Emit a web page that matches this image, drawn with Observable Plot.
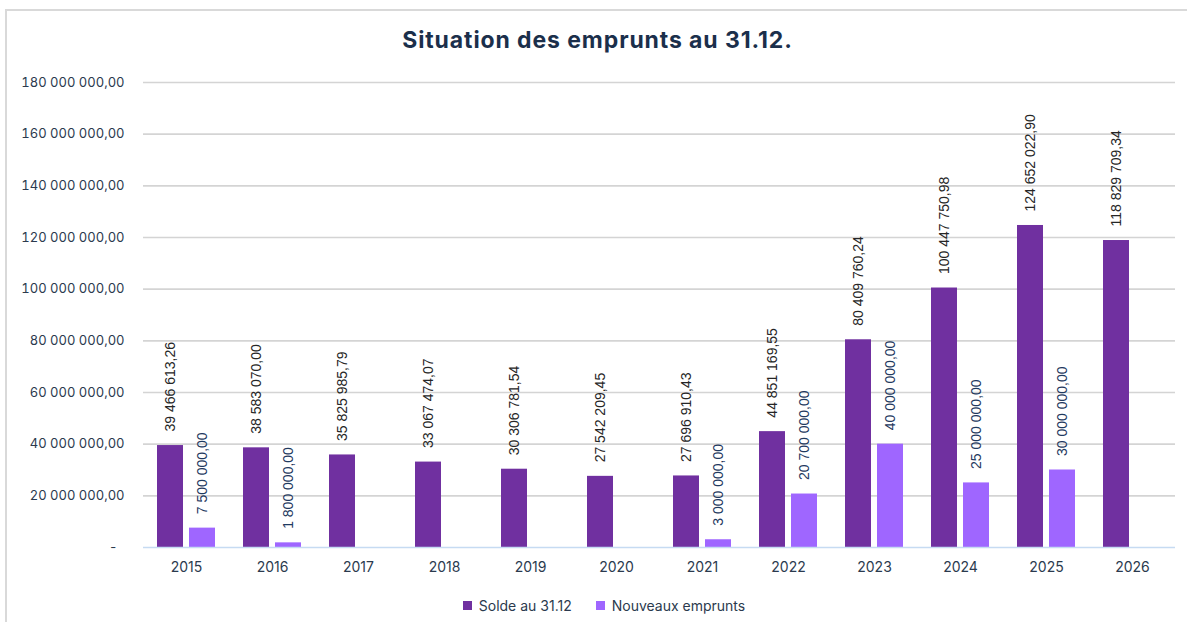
<!DOCTYPE html>
<html>
<head>
<meta charset="utf-8">
<script src="https://cdn.jsdelivr.net/npm/d3@7"></script>
<script src="https://cdn.jsdelivr.net/npm/@observablehq/plot@0.6"></script>
<style>
  html, body { margin: 0; padding: 0; background: #fff; }
  #wrap { position: relative; width: 1187px; height: 622px; overflow: hidden; }
  #frame { position: absolute; left: 5px; top: 9px; width: 1190px; height: 630px;
           border-left: 2px solid #d9d9d9; border-top: 2px solid #d9d9d9; box-sizing: border-box; }
  #title { position: absolute; left: 0; width: 1195px; top: 25px; text-align: center;
           font-family: Inter, "Noto Sans", sans-serif; font-weight: 700; font-size: 23px; letter-spacing: 0.9px; color: #1b2f4b; margin: 0; line-height: 30px; }
  #chart { position: absolute; left: 0; top: 60px; }
  #legend { position: absolute; left: 0; width: 1208px; top: 596px; text-align: center;
            font-family: Inter, "Noto Sans", sans-serif; font-size: 14px; color: #2b3a4e; }
  #legend span.item { display: inline-flex; align-items: center; margin: 0 12px; }
  #legend span.sw { display: inline-block; width: 9px; height: 9px; margin-right: 7px; }
</style>
</head>
<body>
<div id="wrap">
  <div id="frame"></div>
  <h2 id="title">Situation des emprunts au 31.12.</h2>
  <div id="chart"></div>
  <div id="legend"></div>
</div>
<script>
const years = ["2015","2016","2017","2018","2019","2020","2021","2022","2023","2024","2025","2026"];
const solde = [39466613.26, 38583070.00, 35825985.79, 33067474.07, 30306781.54, 27542209.45, 27696910.43, 44851169.55, 80409760.24, 100447750.98, 124652022.90, 118829709.34];
const nouveaux = [7500000, 1800000, null, null, null, null, 3000000, 20700000, 40000000, 25000000, 30000000, null];
const seriesNames = ["Solde au 31.12", "Nouveaux emprunts"];
const seriesColors = ["#7030a0", "#9f66ff"];
const labelColors = ["#262626", "#1f3a5f"];
const yTicks = [0, 20e6, 40e6, 60e6, 80e6, 100e6, 120e6, 140e6, 160e6, 180e6];

const fr = d3.formatLocale({decimal: ",", thousands: "\u00a0", grouping: [3], currency: ["", ""]});
const fmt = fr.format(",.2f");

const rows = [];
years.forEach((y, i) => {
  rows.push({year: y, series: seriesNames[0], value: solde[i]});
  rows.push({year: y, series: seriesNames[1], value: nouveaux[i]});
});
const present = rows.filter(d => d.value != null && d.value > 0);

const chart = Plot.plot({
  width: 1187,
  height: 530,
  marginTop: 22,
  marginBottom: 43,
  marginLeft: 143,
  marginRight: 12,
  style: {fontFamily: "Inter, 'Noto Sans', sans-serif", fontSize: "13px", color: "#2b3a4e", background: "transparent"},
  fx: {domain: years, padding: 0, label: null, axis: "bottom", tickSize: 0, tickPadding: 15},
  x: {domain: seriesNames, paddingInner: 0.18, paddingOuter: 0.394, axis: null},
  y: {domain: [0, 180e6], ticks: yTicks, label: null, tickSize: 0, tickPadding: 19,
      tickFormat: d => d === 0 ? "-\u00a0\u00a0" : fmt(d)},
  color: {domain: seriesNames, range: seriesColors},
  marks: [
    Plot.gridY(yTicks.filter(t => t > 0), {stroke: "#d4d4d4", strokeOpacity: 1, strokeWidth: 1.6}),
    Plot.barY(present, {fx: "year", x: "series", y: "value", fill: "series"}),
    Plot.ruleY([0], {stroke: "#c6dbf2", strokeWidth: 1.5}),
    Plot.text(present, {fx: "year", x: "series", y: "value", text: d => fmt(d.value),
      rotate: -90, textAnchor: "start", dy: -14, fontSize: 14,
      fontFamily: "'Liberation Sans', Arial, sans-serif",
      fill: d => d.series === seriesNames[0] ? labelColors[0] : labelColors[1]})
  ]
});
chart.querySelectorAll("[aria-label='fx-axis tick label'] text, [aria-label='fx-axis tick label']").forEach(el => el.style.fontSize = "14px");
document.getElementById("chart").appendChild(chart);

const legend = document.getElementById("legend");
seriesNames.forEach((n, i) => {
  const item = document.createElement("span");
  item.className = "item";
  const sw = document.createElement("span");
  sw.className = "sw";
  sw.style.background = seriesColors[i];
  item.appendChild(sw);
  item.appendChild(document.createTextNode(n));
  legend.appendChild(item);
});
</script>
</body>
</html>
